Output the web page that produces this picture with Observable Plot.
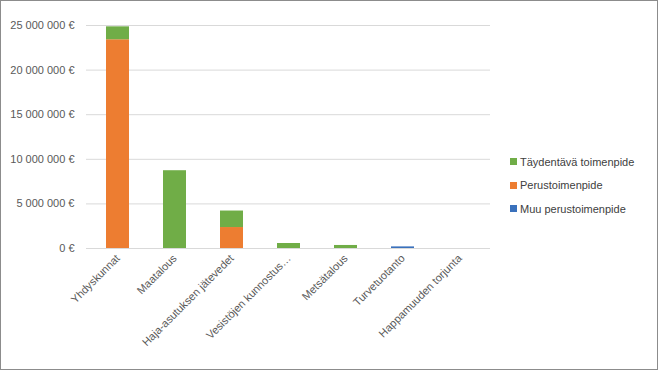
<!DOCTYPE html>
<html>
<head>
<meta charset="utf-8">
<script src="https://cdn.jsdelivr.net/npm/d3@7"></script>
<script src="https://cdn.jsdelivr.net/npm/@observablehq/plot@0.6"></script>
<style>
  html, body { margin: 0; padding: 0; background: #fff; }
  #wrap { position: relative; width: 658px; height: 370px; overflow: hidden; font-family: "Liberation Sans", Arial, sans-serif; }
  #chart { position: absolute; left: 0; top: 0; }
  #legend { position: absolute; left: 510px; top: 150px; font-size: 11px; color: #404040; }
  #legend .item { display: flex; align-items: center; height: 23.5px; white-space: nowrap; }
  #legend .sw { width: 7px; height: 7px; margin-right: 3px; }
  #border { position: absolute; left: 0; top: 0; width: 656px; height: 368px; border: 1px solid #8c8c8c; pointer-events: none; }
</style>
</head>
<body>
<div id="wrap">
  <div id="chart"></div>
  <div id="legend"></div>
  <div id="border"></div>
</div>
<script>
const categories = ["Yhdyskunnat", "Maatalous", "Haja-asutuksen jätevedet", "Vesistöjen kunnostus…", "Metsätalous", "Turvetuotanto", "Happamuuden torjunta"];
const seriesNames = ["Muu perustoimenpide", "Perustoimenpide", "Täydentävä toimenpide"];
const seriesColors = ["#3A71BC", "#ED7D31", "#70AD47"];
const muuValues = [0, 0, 0, 0, 0, 180000, 0];
const perusValues = [23400000, 0, 2350000, 0, 0, 0, 0];
const taydentavaValues = [1450000, 8720000, 1850000, 560000, 340000, 0, 0];
const yTicks = [0, 5000000, 10000000, 15000000, 20000000, 25000000];

const seriesValues = [muuValues, perusValues, taydentavaValues];
const data = [];
categories.forEach((c, i) => {
  seriesNames.forEach((s, j) => {
    data.push({category: c, series: s, value: seriesValues[j][i]});
  });
});

const fmt = v => d3.format(",")(v).replace(/,/g, " ") + " €";

const chart = Plot.plot({
  width: 658,
  height: 370,
  marginLeft: 86,
  marginRight: 168,
  marginTop: 25,
  marginBottom: 122,
  style: {fontFamily: "Liberation Sans, Arial, sans-serif", fontSize: "11px", color: "#595959", background: "transparent"},
  x: {domain: categories, paddingInner: 0.6, paddingOuter: 0.3, label: null},
  y: {domain: [0, 25000000], label: null},
  color: {domain: seriesNames, range: seriesColors},
  marks: [
    Plot.gridY(yTicks, {stroke: "#d9d9d9", strokeOpacity: 1, strokeWidth: 1}),
    Plot.barY(data, {x: "category", y: "value", fill: "series", order: seriesNames}),
    Plot.axisY({ticks: yTicks, tickFormat: fmt, tickSize: 0, tickPadding: 12, label: null}),
    Plot.axisX({tickSize: 0, tickRotate: -45, tickPadding: 8, label: null})
  ]
});
document.getElementById("chart").appendChild(chart);

const legend = document.getElementById("legend");
const order = [2, 1, 0];
order.forEach(j => {
  const item = document.createElement("div");
  item.className = "item";
  const sw = document.createElement("span");
  sw.className = "sw";
  sw.style.background = seriesColors[j];
  const tx = document.createElement("span");
  tx.textContent = seriesNames[j];
  item.appendChild(sw);
  item.appendChild(tx);
  legend.appendChild(item);
});
</script>
</body>
</html>
